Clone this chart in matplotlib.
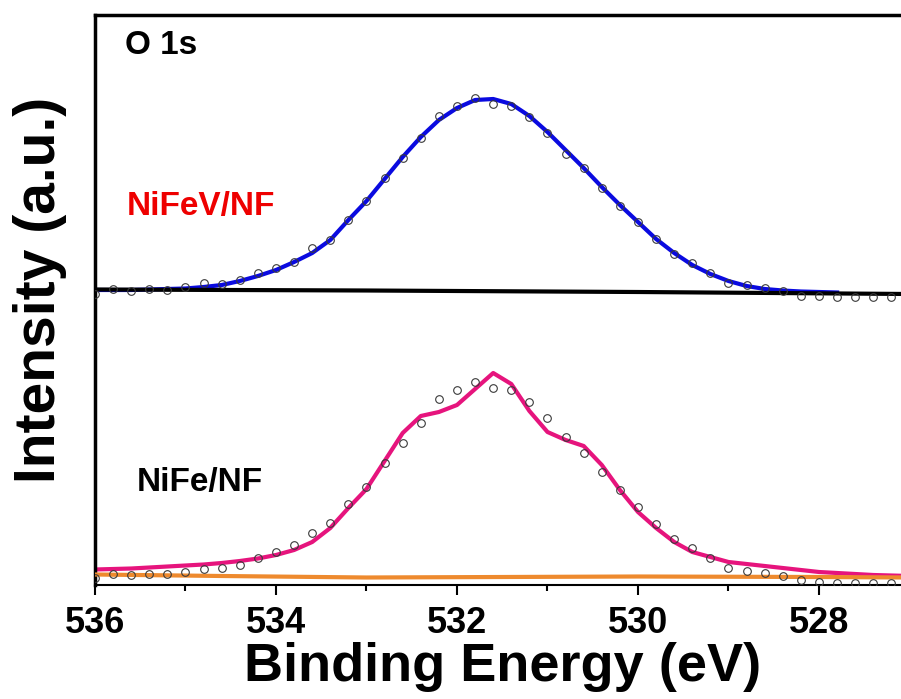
import numpy as np
import matplotlib.pyplot as plt
from matplotlib.ticker import MultipleLocator

plt.rcParams['font.family'] = ['Liberation Sans', 'DejaVu Sans']
plt.rcParams['font.weight'] = 'bold'

# binding energy grid of the measured points (eV)
energy = [536.0, 535.8, 535.6, 535.4, 535.2, 535.0, 534.8, 534.6, 534.4, 534.2,
          534.0, 533.8, 533.6, 533.4, 533.2, 533.0, 532.8, 532.6, 532.4, 532.2,
          532.0, 531.8, 531.6, 531.4, 531.2, 531.0, 530.8, 530.6, 530.4, 530.2,
          530.0, 529.8, 529.6, 529.4, 529.2, 529.0, 528.8, 528.6, 528.4, 528.2,
          528.0, 527.8, 527.6, 527.4, 527.2, 527.0]

# NiFeV/NF (upper, offset) - raw points, fit, background
nifev_raw = [291, 296, 294, 296, 295, 298, 302, 301, 305, 312,
             317, 323, 337, 345, 365, 384, 407, 427, 447, 469,
             479, 487, 481, 479, 468, 452, 431, 417, 397, 379,
             363, 346, 331, 322, 312, 302, 300, 297, 294, 289,
             289, 288, 288, 288, 288, 288]
nifev_fit = [295, 295, 295, 295.5, 296, 296.5, 298, 300, 304, 309,
             315, 323, 332, 345, 365, 384, 406, 428, 448, 465,
             477, 485, 486, 481, 469, 453, 435, 417, 398, 380,
             363, 346, 332, 320, 311, 304, 299, 296, 294.5, 293.5,
             293, 292.5]
nifev_bg_e = [536.0, 533.0, 530.0, 527.0]
nifev_bg = [295.5, 294.5, 293, 291]

# NiFe/NF (lower)
nife_raw = [7, 11, 10, 11, 11, 13, 16, 17, 20, 27,
            33, 40, 52, 62, 81, 98, 122, 142, 162, 186,
            195, 203, 197, 195, 183, 167, 148, 132, 113, 95,
            78, 61, 46, 37, 27, 17, 14, 12, 9, 5,
            3, 2, 2, 2, 2, 2]
nife_fit = [15.5, 16, 16.5, 17.5, 18.5, 19.5, 20.5, 22, 24, 26.5,
            30, 35, 43, 57, 77, 96, 124, 152, 169, 173,
            180, 196, 212, 201, 174, 153, 145, 139, 120, 95,
            73, 57, 43, 33, 28, 23, 21, 19, 17, 15,
            13, 12, 11, 10, 9.5, 9]
nife_bg_e = [536.0, 534.6, 533.0, 531.5, 530.0, 528.0, 527.0]
nife_bg = [10.5, 9, 7.5, 8, 8.5, 8, 7.5]

fig = plt.figure(figsize=(9.01, 6.99), dpi=100)
ax = fig.add_axes([95 / 901, 114 / 699, 814.5 / 901, 570 / 699])

ax.plot(energy[:len(nifev_fit)], nifev_fit, color='#0a0ae0', lw=3, zorder=2)
ax.plot(nifev_bg_e, nifev_bg, color='black', lw=3, zorder=3)
ax.plot(energy, nife_fit, color='#e6147d', lw=3, zorder=2)
ax.plot(nife_bg_e, nife_bg, color='#ee8a2e', lw=3, zorder=3)

for raw in (nifev_raw, nife_raw):
    ax.plot(energy, raw, 'o', mfc='none', mec='#3a3a3a', ms=5.5, mew=0.8, zorder=4)

ax.text(535.67, 540, 'O 1s', fontsize=24, fontweight='bold', va='center')
ax.text(535.65, 378, 'NiFeV/NF', fontsize=24, fontweight='bold', color='#ee0000', va='center')
ax.text(535.54, 102, 'NiFe/NF', fontsize=24, fontweight='bold', color='black', va='center')

ax.set_xlim(536, 527)
ax.set_ylim(0, 570)
ax.xaxis.set_major_locator(MultipleLocator(2))
ax.xaxis.set_minor_locator(MultipleLocator(1))
ax.set_yticks([])
ax.tick_params(axis='x', which='major', direction='out', length=7, width=1.5,
               labelsize=26, pad=8)
ax.tick_params(axis='x', which='minor', direction='out', length=4, width=1.5)
for lbl in ax.get_xticklabels():
    lbl.set_fontweight('bold')

ax.spines['left'].set_linewidth(2.5)
ax.spines['top'].set_linewidth(2.5)
ax.spines['bottom'].set_linewidth(1.5)
ax.spines['right'].set_linewidth(2.5)

ax.set_xlabel('Binding Energy (eV)', fontsize=39, fontweight='bold', labelpad=1)
ax.set_ylabel('Intensity (a.u.)', fontsize=41, fontweight='bold')
ax.yaxis.set_label_coords(-0.034, 0.517)

plt.savefig('out.png', dpi=100)
plt.close()
